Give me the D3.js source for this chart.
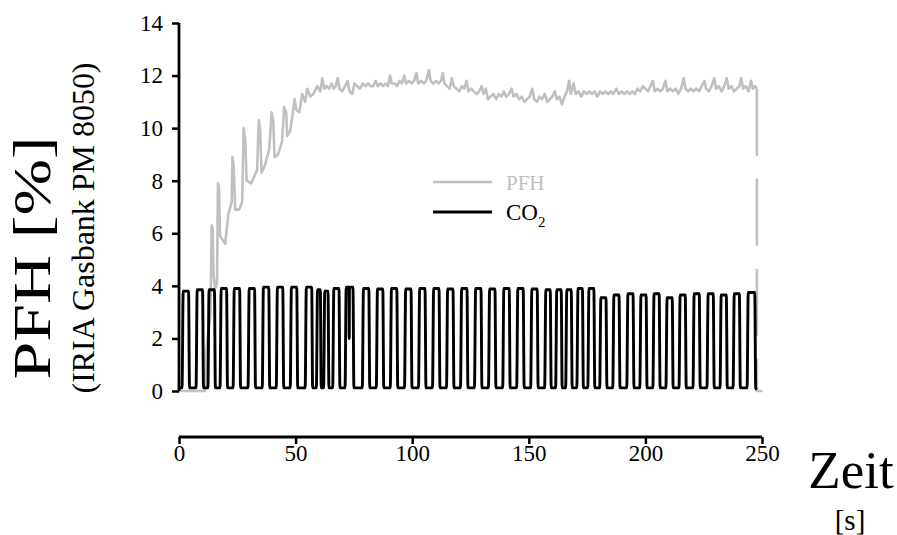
<!DOCTYPE html>
<html>
<head>
<meta charset="utf-8">
<script src="https://cdn.jsdelivr.net/npm/d3@7"></script>
<style>
  html, body { margin: 0; padding: 0; background: #ffffff; }
  svg { display: block; font-family: "Liberation Serif", "Times New Roman", serif; }
</style>
</head>
<body>
<svg id="chart" width="897" height="535"></svg>
<script>
// Axis ticks
const xTicks = [0, 50, 100, 150, 200, 250];
const yTicks = [0, 2, 4, 6, 8, 10, 12, 14];

// CO2 breathing cycles: onset (s), end of plateau (s), plateau level (%)
const co2Rise = [1.3, 7.3, 12.4, 17.6, 23.2, 29.6, 35.7, 41.7, 47.7, 54.1,
                 58.9, 62.0, 65.9, 71.2, 78.6, 84.6, 90.6, 96.7, 102.7, 108.7,
                 114.7, 120.7, 126.7, 132.7, 138.8, 144.8, 150.8, 156.8, 161.5, 165.8,
                 170.6, 175.3, 180.4, 186.0, 192.0, 197.6, 203.2, 208.8, 214.4, 220.4,
                 226.4, 232.0, 237.6, 243.6];
const co2Fall = [4.5, 10.5, 15.6, 20.8, 26.4, 32.8, 38.9, 44.9, 50.9, 57.3,
                 61.0, 64.3, 69.0, 75.0, 81.8, 87.8, 93.8, 99.9, 105.9, 111.9,
                 117.9, 123.9, 129.9, 135.9, 142.0, 148.0, 154.0, 159.6, 164.3, 168.6,
                 173.4, 178.3, 183.5, 189.1, 195.1, 200.7, 206.3, 211.9, 217.5, 223.5,
                 229.5, 235.1, 240.7, 247.3];
const co2Top  = [3.80, 3.85, 3.85, 3.90, 3.90, 3.90, 3.95, 3.95, 3.95, 3.95,
                 3.85, 3.80, 3.90, 3.95, 3.90, 3.88, 3.90, 3.88, 3.90, 3.90,
                 3.88, 3.90, 3.90, 3.88, 3.90, 3.90, 3.88, 3.85, 3.85, 3.85,
                 3.90, 3.90, 3.55, 3.65, 3.70, 3.65, 3.70, 3.55, 3.65, 3.70,
                 3.70, 3.65, 3.70, 3.75];
const co2Floor = 0.12;
// short drop inside one plateau
const co2Notch = [[72.9, 3.95], [73.0, 2.0], [73.1, 3.95]];
const co2End = [[0, 0.12], [247.8, 0.05]];

// PFH concentration trace [time s, %]
const pfhPoints = [
  [0, 0], [11.2, 0], [11.6, 1.4], [12.5, 2.2], [13.5, 2.9], [14.0, 6.3], [14.4, 6.2],
  [14.8, 4.4], [15.5, 3.9], [16.3, 4.1], [16.7, 7.9], [17.1, 7.8], [17.6, 5.9],
  [19.8, 5.6], [21.1, 6.7], [22.6, 7.2], [22.9, 8.9], [23.4, 8.6], [24.1, 6.9],
  [25.8, 6.9], [27.1, 7.2], [27.7, 10.0], [28.4, 9.6], [29.0, 8.0], [30.9, 7.9],
  [33.5, 8.4], [34.2, 10.3], [34.8, 9.9], [35.4, 8.3], [36.9, 8.6], [38.7, 9.2],
  [39.7, 10.6], [40.4, 10.3], [41.0, 8.9], [42.5, 9.0], [44.2, 9.5], [45.1, 10.8],
  [46.0, 10.6], [46.4, 9.7], [47.7, 9.9], [49.0, 10.7], [49.6, 11.1], [50.3, 10.7],
  [51.6, 10.6], [52.8, 11.3], [54.1, 11.0], [55.0, 11.5], [56.3, 11.2], [57.6, 11.3],
  [59.3, 11.6], [60.6, 11.4], [61.4, 11.9], [62.3, 11.5], [63.3, 11.6], [64.4, 11.5],
  [65.4, 11.7], [66.3, 11.5], [67.2, 11.6], [68.1, 11.9], [68.8, 11.5], [70.0, 11.4],
  [71.2, 11.6], [72.3, 11.8], [73.1, 11.4], [74.3, 11.3], [75.2, 11.7], [76.4, 11.6],
  [77.6, 11.5], [78.8, 11.7], [80.0, 11.6], [81.1, 11.7], [82.2, 11.6], [83.3, 11.6],
  [84.3, 11.8], [85.2, 11.6], [86.4, 11.7], [87.5, 11.6], [88.6, 11.7], [89.6, 11.6],
  [90.5, 12.0], [91.2, 11.7], [92.4, 11.7], [93.5, 11.6], [94.6, 11.8], [95.6, 11.7],
  [96.6, 12.0], [97.4, 11.7], [98.6, 11.8], [99.7, 11.7], [100.8, 11.8], [101.8, 12.1],
  [102.6, 11.7], [103.8, 11.8], [104.9, 11.7], [106.0, 11.8], [107.2, 12.2], [107.9, 11.8],
  [109.0, 11.7], [110.2, 11.8], [111.3, 11.7], [112.3, 11.8], [113.1, 12.1], [113.8, 11.7],
  [114.9, 11.6], [116.0, 11.5], [117.0, 11.9], [117.8, 11.6], [119.0, 11.5], [120.2, 11.4],
  [121.3, 11.6], [122.3, 11.5], [123.3, 11.8], [124.1, 11.4], [125.3, 11.5], [126.4, 11.4],
  [127.6, 11.3], [128.7, 11.4], [129.8, 11.6], [130.6, 11.3], [131.6, 11.5], [132.5, 11.1],
  [133.6, 11.2], [134.8, 11.3], [136.0, 11.1], [137.1, 11.3], [138.2, 11.2], [139.3, 11.4],
  [140.3, 11.2], [141.5, 11.3], [142.7, 11.5], [143.5, 11.2], [144.6, 11.3], [145.8, 11.1],
  [147.0, 11.2], [148.1, 11.0], [149.2, 11.1], [150.4, 11.2], [151.5, 11.5], [152.3, 11.1],
  [153.5, 11.0], [154.6, 11.2], [155.7, 11.1], [156.8, 11.3], [157.9, 11.0], [159.0, 11.1],
  [160.1, 11.2], [161.2, 11.4], [162.0, 11.1], [163.1, 11.2], [164.2, 10.9], [165.3, 11.2],
  [166.4, 11.4], [167.3, 11.8], [168.0, 11.3], [169.2, 11.7], [170.1, 11.3], [171.3, 11.4],
  [172.5, 11.2], [173.6, 11.4], [174.8, 11.3], [176.0, 11.4], [177.1, 11.3], [178.3, 11.4],
  [179.4, 11.2], [180.5, 11.4], [181.7, 11.3], [182.9, 11.4], [184.0, 11.3], [185.2, 11.4],
  [186.3, 11.3], [187.5, 11.5], [188.6, 11.3], [189.8, 11.4], [191.0, 11.3], [192.1, 11.4],
  [193.3, 11.3], [194.4, 11.4], [195.5, 11.3], [196.6, 11.5], [197.8, 11.4], [198.9, 11.6],
  [200.0, 11.5], [201.1, 11.4], [202.2, 11.6], [203.2, 11.8], [204.0, 11.4], [205.2, 11.5],
  [206.3, 11.4], [207.5, 11.5], [208.6, 11.8], [209.4, 11.4], [210.6, 11.5], [211.8, 11.4],
  [213.0, 11.5], [214.1, 11.3], [215.3, 11.5], [216.4, 11.9], [217.2, 11.5], [218.3, 11.4],
  [219.5, 11.5], [220.6, 11.4], [221.8, 11.5], [223.0, 11.4], [224.1, 11.6], [225.3, 11.8],
  [226.0, 11.5], [227.2, 11.4], [228.4, 11.6], [229.5, 11.9], [230.3, 11.5], [231.5, 11.6],
  [232.7, 11.4], [233.8, 11.6], [234.9, 11.9], [235.7, 11.5], [236.9, 11.6], [238.0, 11.4],
  [239.2, 11.5], [240.3, 11.6], [241.1, 11.9], [241.9, 11.5], [243.0, 11.6], [244.2, 11.4],
  [245.3, 11.8], [246.1, 11.5], [247.1, 11.6], [247.8, 11.5]
];
// sensor switched off: PFH falls back to zero
const pfhShutdown = [[247.8, 11.5], [247.8, 0], [250.2, 0]];

const legendItems = [
  { name: "PFH", sub: "", color: "#c0c0c0", size: 21 },
  { name: "CO", sub: "2", color: "#000000", size: 23 }
];

const svg = d3.select("#chart");

const x = d3.scaleLinear().domain([0, 250]).range([179, 762]);
const y = d3.scaleLinear().domain([0, 14]).range([391, 23]);

// CO2 waveform vertices from the cycle table
const co2Points = co2End.slice(0, 1);
co2Rise.forEach((r, i) => {
  co2Points.push([r, co2Floor], [r + 0.5, co2Top[i]], [co2Fall[i] - 0.4, co2Top[i]], [co2Fall[i], co2Floor]);
});
co2Notch.forEach(p => co2Points.push(p));
co2Points.push(co2End[1]);
co2Points.sort((a, b) => a[0] - b[0]);

const line = d3.line().x(d => x(d[0])).y(d => y(d[1]));
const smoothLine = d3.line().x(d => x(d[0])).y(d => y(d[1])).curve(d3.curveMonotoneX);

// PFH (grey)
svg.append("path")
  .attr("d", line(pfhPoints))
  .attr("fill", "none")
  .attr("stroke", "#c0c0c0")
  .attr("stroke-width", 2.6)
  .attr("stroke-linejoin", "round");
svg.append("path")
  .attr("d", line(pfhShutdown))
  .attr("fill", "none")
  .attr("stroke", "#c0c0c0")
  .attr("stroke-width", 2.6)
  .attr("stroke-dasharray", "67 23");

// CO2 (black)
svg.append("path")
  .attr("d", smoothLine(co2Points))
  .attr("fill", "none")
  .attr("stroke", "#000")
  .attr("stroke-width", 2.9)
  .attr("stroke-linejoin", "round");

// Y axis
const yAxis = svg.append("g")
  .attr("transform", `translate(${x(0)},0)`)
  .call(d3.axisLeft(y).tickValues(yTicks).tickSize(7).tickPadding(9).tickFormat(d3.format("d")));
yAxis.select(".domain").attr("stroke", "#000").attr("stroke-width", 2.8)
  .attr("d", `M0,${y(0)}V${y(14)}`);
yAxis.selectAll(".tick line").attr("stroke", "#000").attr("stroke-width", 2.5);
yAxis.selectAll(".tick text").attr("font-size", 23).attr("fill", "#000")
  .attr("font-family", "Liberation Serif, serif");

// X axis, set below the plot
const xAxis = svg.append("g")
  .attr("transform", "translate(0,437)")
  .call(d3.axisBottom(x).tickValues(xTicks).tickSize(7).tickPadding(1).tickFormat(d3.format("d")));
xAxis.select(".domain").attr("stroke", "#000").attr("stroke-width", 2.8)
  .attr("d", `M${x(0)},0H${x(250)}`);
xAxis.selectAll(".tick line").attr("stroke", "#000").attr("stroke-width", 2.5);
xAxis.selectAll(".tick text").attr("font-size", 23).attr("fill", "#000")
  .attr("font-family", "Liberation Serif, serif");

// Axis titles
svg.append("text")
  .attr("transform", "translate(50,258) rotate(-90)")
  .attr("text-anchor", "middle")
  .attr("font-size", 52)
  .attr("textLength", 243)
  .attr("lengthAdjust", "spacingAndGlyphs")
  .text("PFH  [%]");
svg.append("text")
  .attr("transform", "translate(94,228) rotate(-90)")
  .attr("text-anchor", "middle")
  .attr("font-size", 31)
  .attr("textLength", 331)
  .attr("lengthAdjust", "spacingAndGlyphs")
  .text("(IRIA Gasbank PM 8050)");
svg.append("text")
  .attr("x", 851).attr("y", 488)
  .attr("text-anchor", "middle")
  .attr("font-size", 53)
  .text("Zeit");
svg.append("text")
  .attr("x", 850).attr("y", 530)
  .attr("text-anchor", "middle")
  .attr("font-size", 29)
  .text("[s]");

// Legend
const legend = svg.append("g");
legendItems.forEach((d, i) => {
  const ly = 182 + i * 30;
  legend.append("line")
    .attr("x1", 433).attr("x2", 492).attr("y1", ly).attr("y2", ly)
    .attr("stroke", d.color).attr("stroke-width", i === 0 ? 2.4 : 2.8);
  const t = legend.append("text")
    .attr("x", 506).attr("y", ly + 8)
    .attr("font-size", d.size)
    .attr("fill", i === 0 ? "#c0c0c0" : "#000")
    .text(d.name);
  if (d.sub) {
    t.append("tspan").attr("font-size", 15).attr("dy", 7).text(d.sub);
  }
});
</script>
</body>
</html>
